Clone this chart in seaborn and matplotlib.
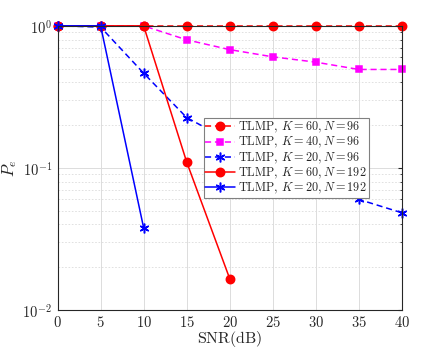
import numpy as np
import pandas as pd
import matplotlib
matplotlib.use("Agg")
import matplotlib.pyplot as plt
import seaborn as sns
from matplotlib.ticker import FixedLocator, FuncFormatter, LogLocator, NullFormatter

snr_full = [0, 5, 10, 15, 20, 25, 30, 35, 40]
pe_k60_n96 = [1, 1, 1, 1, 1, 1, 1, 1, 1]
pe_k40_n96 = [1, 1, 1, 0.797, 0.68, 0.605, 0.555, 0.493, 0.493]
pe_k20_n96 = [1, 0.98, 0.464, 0.226, 0.155, 0.108, 0.080, 0.060, 0.0483]
snr_k60_n192 = [0, 5, 10, 15, 20]
pe_k60_n192 = [1, 1, 1, 0.110, 0.0166]
snr_k20_n192 = [0, 5, 10]
pe_k20_n192 = [1, 1, 0.0378]

labels = [
    r"$\mathrm{TLMP},\,K=60,N=96$",
    r"$\mathrm{TLMP},\,K=40,N=96$",
    r"$\mathrm{TLMP},\,K=20,N=96$",
    r"$\mathrm{TLMP},\,K=60,N=192$",
    r"$\mathrm{TLMP},\,K=20,N=192$",
]

sns.set_style("white")
plt.rcParams["mathtext.fontset"] = "cm"
plt.rcParams["font.family"] = ["DejaVu Serif"]

fig = plt.figure(figsize=(4.43, 3.49), dpi=100)
ax = fig.add_axes([0.130, 0.112, 0.777, 0.814])

star = (6, 2, 0)
series = [
    (snr_full, pe_k60_n96, "#ff0000", "--", "o", 6.0),
    (snr_full, pe_k40_n96, "#ff00ff", "--", "s", 5.0),
    (snr_full, pe_k20_n96, "#0000ff", "--", star, 7.0),
    (snr_k60_n192, pe_k60_n192, "#ff0000", "-", "o", 6.0),
    (snr_k20_n192, pe_k20_n192, "#0000ff", "-", star, 7.0),
]

for (x, y, c, ls, m, ms), lab in zip(series, labels):
    df = pd.DataFrame({"snr": x, "pe": y})
    sns.lineplot(data=df, x="snr", y="pe", ax=ax, color=c,
                 marker=m, markersize=ms, markeredgecolor=c, markerfacecolor=c,
                 markeredgewidth=1.1, linewidth=1.1, label=lab)
    line = ax.lines[-1]
    line.set_clip_on(False)
    if ls == "--":
        line.set_linestyle((0, (4, 2.5)))
    else:
        line.set_linestyle("-")

ax.set_yscale("log")
ax.set_xlim(0, 40)
ax.set_ylim(0.01, 1.0)
ax.xaxis.set_major_locator(FixedLocator(snr_full))
ax.xaxis.set_major_formatter(FuncFormatter(lambda v, p: r"$%d$" % v))
ax.yaxis.set_major_locator(LogLocator(base=10, numticks=5))
ax.yaxis.set_major_formatter(FuncFormatter(lambda v, p: r"$10^{%d}$" % round(np.log10(v))))
ax.yaxis.set_minor_locator(LogLocator(base=10, subs=np.arange(2, 10), numticks=10))
ax.yaxis.set_minor_formatter(NullFormatter())

ax.grid(True, which="major", color="#dcdcdc", linewidth=0.7)
ax.grid(True, which="minor", axis="y", color="#dcdcdc", linewidth=0.6, linestyle=(0, (2, 2)))
ax.set_axisbelow(True)

ax.tick_params(axis="both", which="major", direction="in", length=3, labelsize=10.5,
               colors="#262626", top=True, right=True, pad=4)
ax.tick_params(axis="y", which="minor", direction="in", length=1.8, right=True)
for s in ax.spines.values():
    s.set_color("#262626")
    s.set_linewidth(0.8)
    s.set_zorder(5)

ax.set_xlabel(r"$\mathrm{SNR(dB)}$", fontsize=11.5, color="#262626", labelpad=-1)
ax.set_ylabel(r"$P_e$", fontsize=12, color="#262626", labelpad=2)

leg = ax.legend(loc="upper left", bbox_to_anchor=(0.424, 0.675), fontsize=8.8,
                frameon=True, fancybox=False, framealpha=1, borderpad=0.15,
                labelspacing=0.0, handlelength=2.4, handletextpad=0.3, borderaxespad=0)
leg.get_frame().set_edgecolor("#808080")
leg.get_frame().set_linewidth(0.8)
leg.set_zorder(10)

fig.savefig("out.png", dpi=100)
